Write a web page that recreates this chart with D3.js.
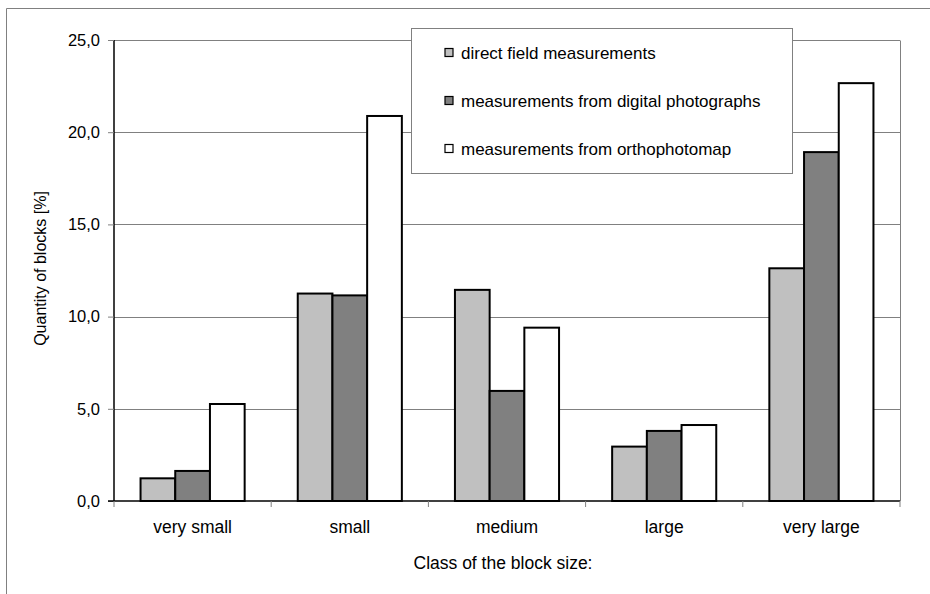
<!DOCTYPE html>
<html>
<head>
<meta charset="utf-8">
<script src="https://cdn.jsdelivr.net/npm/d3@7"></script>
<style>
  html, body { margin: 0; padding: 0; background: #fff; }
  svg { display: block; font-family: "Liberation Sans", Arial, sans-serif; }
</style>
</head>
<body>
<svg id="chart" width="930" height="594"></svg>
<script>
// Block-size classes and the share of blocks in each, per measurement method
const categories = ["very small", "small", "medium", "large", "very large"];
const seriesNames = [
  "direct field measurements",
  "measurements from digital photographs",
  "measurements from orthophotomap"
];
const directField = [1.23, 11.25, 11.45, 2.95, 12.62];
const digitalPhotos = [1.63, 11.15, 5.97, 3.80, 18.92];
const orthophotomap = [5.26, 20.88, 9.40, 4.12, 22.66];
const yTicks = [0, 5, 10, 15, 20, 25];

const seriesValues = [directField, digitalPhotos, orthophotomap];
const fills = ["#c0c0c0", "#808080", "#ffffff"];

const svg = d3.select("#chart");
const plotLeft = 114, plotRight = 900, plotTop = 40, plotBottom = 501;

// outer chart frame
svg.append("path")
  .attr("d", "M6.5,594 V8.5 H930")
  .attr("fill", "none").attr("stroke", "#808080").attr("stroke-width", 1);

const x = d3.scaleBand().domain(categories).range([plotLeft, plotRight]).paddingInner(0).paddingOuter(0);
const xs = d3.scaleBand().domain(d3.range(seriesNames.length))
  .range([0, x.bandwidth()]).paddingInner(0).paddingOuter(0.765);
const y = d3.scaleLinear().domain([0, 25]).range([plotBottom, plotTop]);

// horizontal gridlines
svg.append("g").selectAll("line").data(yTicks.filter(d => d > 0)).join("line")
  .attr("x1", plotLeft).attr("x2", plotRight)
  .attr("y1", d => Math.round(y(d)) + 0.5).attr("y2", d => Math.round(y(d)) + 0.5)
  .attr("stroke", "#808080").attr("stroke-width", 1);
// right edge of plot area
svg.append("line")
  .attr("x1", plotRight + 0.5).attr("x2", plotRight + 0.5)
  .attr("y1", Math.round(y(25)) + 0.5).attr("y2", plotBottom)
  .attr("stroke", "#808080");

// bars
const groups = svg.append("g").selectAll("g").data(categories).join("g")
  .attr("transform", d => `translate(${x(d)},0)`);
groups.selectAll("rect")
  .data((c, i) => seriesValues.map((vals, s) => ({ s, v: vals[i] })))
  .join("rect")
  .attr("x", d => xs(d.s))
  .attr("width", xs.bandwidth())
  .attr("y", d => y(d.v))
  .attr("height", d => y(0) - y(d.v))
  .attr("fill", d => fills[d.s])
  .attr("stroke", "#000").attr("stroke-width", 2);

// y axis
const yAxis = d3.axisLeft(y).tickValues(yTicks).tickSize(6).tickPadding(8)
  .tickFormat(d => d3.format(".1f")(d).replace(".", ","));
const gy = svg.append("g").attr("transform", `translate(${plotLeft},0)`).call(yAxis);
gy.select(".domain").attr("stroke", "#000").attr("stroke-width", 1.5).attr("d", `M0,${plotTop}V${plotBottom}`);
gy.selectAll(".tick line").attr("stroke", "#808080");
gy.selectAll("text").attr("font-size", 16.5).attr("fill", "#000")
  .attr("font-family", "'Liberation Sans', Arial, sans-serif");

// x axis with ticks on category boundaries
const gx = svg.append("g").attr("transform", `translate(0,${plotBottom})`);
gx.append("line").attr("x1", plotLeft - 6).attr("x2", plotRight).attr("y1", 0).attr("y2", 0)
  .attr("stroke", "#000").attr("stroke-width", 1.5);
const boundaries = categories.map(c => x(c)).concat([plotRight]);
gx.selectAll("line.tk").data(boundaries).join("line").attr("class", "tk")
  .attr("x1", d => d).attr("x2", d => d).attr("y1", 0).attr("y2", 6)
  .attr("stroke", "#808080");
gx.selectAll("text").data(categories).join("text")
  .attr("x", d => x(d) + x.bandwidth() / 2).attr("y", 32)
  .attr("text-anchor", "middle").attr("font-size", 17.5).text(d => d);

// axis titles
svg.append("text").attr("x", (plotLeft + plotRight) / 2 - 4).attr("y", 569)
  .attr("text-anchor", "middle").attr("font-size", 17.5).text("Class of the block size:");
svg.append("text").attr("transform", `translate(46,${(plotTop + plotBottom) / 2 - 2}) rotate(-90)`)
  .attr("text-anchor", "middle").attr("font-size", 16).text("Quantity of blocks [%]");

// legend
const lg = svg.append("g");
lg.append("rect").attr("x", 411.5).attr("y", 28.5).attr("width", 381).attr("height", 145)
  .attr("fill", "#fff").attr("stroke", "#808080");
const rowY = [52.5, 100.5, 148.5];
const items = lg.selectAll("g").data(seriesNames).join("g")
  .attr("transform", (d, i) => `translate(0,${rowY[i]})`);
items.append("rect").attr("x", 445).attr("y", -4).attr("width", 8).attr("height", 8)
  .attr("fill", (d, i) => fills[i]).attr("stroke", "#000").attr("stroke-width", 1.2);
items.append("text").attr("x", 461).attr("y", 6).attr("font-size", 17).text(d => d);
</script>
</body>
</html>
